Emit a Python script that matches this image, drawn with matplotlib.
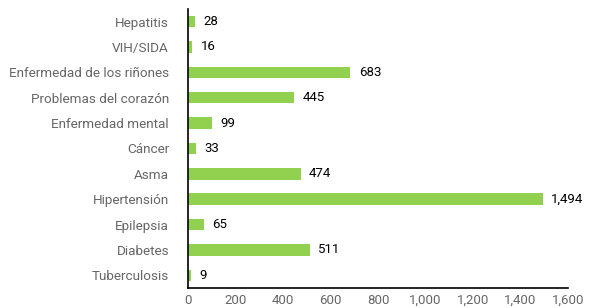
import matplotlib.pyplot as plt
from matplotlib.ticker import FuncFormatter

plt.rcParams['font.family'] = ['Roboto', 'DejaVu Sans']

categories = ["Hepatitis", "VIH/SIDA", "Enfermedad de los riñones", "Problemas del corazón",
              "Enfermedad mental", "Cáncer", "Asma", "Hipertensión", "Epilepsia",
              "Diabetes", "Tuberculosis"]
values = [28, 16, 683, 445, 99, 33, 474, 1494, 65, 511, 9]
xticks = [0, 200, 400, 600, 800, 1000, 1200, 1400, 1600]

fig = plt.figure(figsize=(5.89, 3.08), dpi=100)
ax = fig.add_axes([0.32, 0.065, 0.644, 0.906])

pos = list(range(len(categories)))
ax.barh(pos, values, height=0.45, color='#92d050')

for p, v in zip(pos, values):
    ax.annotate(f"{v:,}", (v, p), xytext=(6, 0), textcoords='offset points',
                va='center', ha='left', fontsize=9.5, color='black')

ax.set_yticks(pos)
ax.set_yticklabels(categories, fontsize=9.7, color='#666666')
ax.set_ylim(len(categories) - 0.5, -0.5)
ax.set_xlim(0, 1600)
ax.set_xticks(xticks)
ax.xaxis.set_major_formatter(FuncFormatter(lambda x, _: f"{int(x):,}"))
ax.tick_params(axis='x', length=0, labelsize=9.5, labelcolor='#666666', pad=4)
ax.tick_params(axis='y', length=0, pad=14)

for s in ['top', 'right']:
    ax.spines[s].set_visible(False)
ax.spines['left'].set_linewidth(1.2)
ax.spines['bottom'].set_linewidth(1.2)

fig.savefig('out.png', dpi=100)
